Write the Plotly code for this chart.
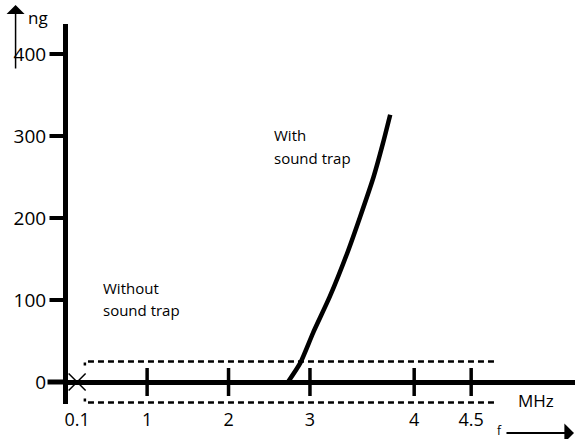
import numpy as np
import plotly.graph_objects as go

# Residual sound-carrier level (ng) with the sound trap fitted, versus frequency (MHz)
freq_mhz = [2.73, 2.88, 3.03, 3.19, 3.36, 3.48, 3.61, 3.70, 3.77]
level_ng = [0, 23, 60, 104, 158, 201, 250, 291, 326]

# Axis ticks
x_tick_mhz = [0.1, 1, 2, 3, 4, 4.5]
x_tick_text = ["0.1", "1", "2", "3", "4", "4.5"]
y_tick_vals = [0, 100, 200, 300, 400]

# Tolerance band reached without the sound trap (±ng)
band_level = 25
band_start_mhz = 0.2
band_end_mhz = 4.7

# The frequency axis of this diagram is not uniform: above 3 MHz it is stretched.
SCALE_MHZ = [0.0, 0.1, 1.0, 2.0, 3.0, 4.0, 4.5]
SCALE_POS = [0.0, 0.14, 1.0, 2.0, 3.0, 4.28, 4.98]


def fscale(f):
    f = np.asarray(f, dtype=float)
    pos = np.interp(f, SCALE_MHZ, SCALE_POS)
    slope = (SCALE_POS[-1] - SCALE_POS[-2]) / (SCALE_MHZ[-1] - SCALE_MHZ[-2])
    return np.where(f > SCALE_MHZ[-1], SCALE_POS[-1] + (f - SCALE_MHZ[-1]) * slope, pos)


FONT = "Open Sans"
INK = "black"
ZERO_PAPER_Y = 0.0579            # paper height of the 0 ng line
Y_TICK_SPAN = (-0.0365, -0.0089)  # paper x extent of the level-axis tick dashes

fig = go.Figure()

# Dashed tolerance band (upper and lower edge, with small corner hooks)
bx = fscale([band_end_mhz, band_start_mhz, band_start_mhz])
for sgn in (1, -1):
    fig.add_trace(go.Scatter(
        x=bx, y=[sgn * band_level, sgn * band_level, sgn * (band_level - 5)],
        mode="lines", line=dict(color=INK, width=2.5, dash="6px,4px"),
        hoverinfo="skip", showlegend=False))

# Curve with sound trap
fig.add_trace(go.Scatter(
    x=fscale(freq_mhz), y=level_ng, mode="lines",
    line=dict(color=INK, width=4.5, shape="spline", smoothing=0.6),
    hoverinfo="skip", showlegend=False))

# Tick marks crossing the frequency axis
fig.add_trace(go.Scatter(
    x=fscale(x_tick_mhz[1:]), y=[0] * (len(x_tick_mhz) - 1), mode="markers",
    marker=dict(symbol="line-ns", size=20, line=dict(color=INK, width=3.5)),
    hoverinfo="skip", showlegend=False, cliponaxis=False))
fig.add_trace(go.Scatter(
    x=fscale(x_tick_mhz[:1]), y=[0], mode="markers",
    marker=dict(symbol="x-thin", size=17, line=dict(color=INK, width=1.5)),
    hoverinfo="skip", showlegend=False, cliponaxis=False))

# Tick dashes on the level axis
for yv in y_tick_vals:
    fig.add_shape(type="line", xref="paper", yref="y",
                  x0=Y_TICK_SPAN[0], x1=Y_TICK_SPAN[1], y0=yv, y1=yv,
                  line=dict(color=INK, width=4))

# Frequency axis continues a little to the left of the level axis
fig.add_shape(type="line", xref="paper", yref="paper",
              x0=-0.0404, x1=0.0, y0=ZERO_PAPER_Y, y1=ZERO_PAPER_Y,
              line=dict(color=INK, width=5))

# Curve labels
labels = [
    (0.43, [114.5, 87.5], ["Without", "sound trap"]),
    (2.53, [301, 273], ["With", "sound trap"]),
]
for xpos, ys, lines in labels:
    for yv, txt in zip(ys, lines):
        fig.add_annotation(x=xpos, y=yv, xref="x", yref="y", text=txt,
                           showarrow=False, xanchor="left", yanchor="middle",
                           font=dict(family=FONT, size=15, color=INK))

# Unit labels and axis arrows
fig.add_annotation(x=0.923, y=0.008, xref="paper", yref="paper", text="MHz",
                   showarrow=False, xanchor="center", yanchor="middle",
                   font=dict(family=FONT, size=17, color=INK))
fig.add_annotation(x=0.8505, y=-0.071, xref="paper", yref="paper", text="f",
                   showarrow=False, xanchor="center", yanchor="middle",
                   font=dict(family=FONT, size=12, color=INK))
fig.add_annotation(x=0.998, y=-0.0763, xref="paper", yref="paper", text="",
                   showarrow=True, ax=-69, ay=0, arrowhead=1, arrowsize=1.6,
                   arrowwidth=2, arrowcolor=INK)
fig.add_annotation(x=-0.1034, y=1.05, xref="paper", yref="paper", text="",
                   showarrow=True, ax=0, ay=65, arrowhead=1, arrowsize=2,
                   arrowwidth=1.5, arrowcolor=INK)
fig.add_annotation(x=-0.0601, y=1.018, xref="paper", yref="paper", text="ng",
                   showarrow=False, xanchor="center", yanchor="middle",
                   font=dict(family=FONT, size=17, color=INK))

fig.update_layout(
    width=575, height=439,
    margin=dict(l=67.5, r=0, t=24, b=35),
    paper_bgcolor="white", plot_bgcolor="white",
    font=dict(family=FONT, color=INK),
    hovermode=False,
    xaxis=dict(
        range=[0.0282, 6.2552], showline=False,
        tickvals=fscale(x_tick_mhz), ticktext=x_tick_text, ticks="",
        ticklabelstandoff=3,
        tickfont=dict(family=FONT, size=18, color=INK),
        showgrid=False, zeroline=False, fixedrange=True),
    yaxis=dict(
        range=[-26.83, 436.59],
        showline=True, linewidth=5, linecolor=INK,
        zeroline=True, zerolinewidth=5, zerolinecolor=INK,
        tickvals=y_tick_vals, ticks="", ticklabelstandoff=13,
        tickfont=dict(family=FONT, size=19, color=INK),
        showgrid=False, fixedrange=True),
)

fig.write_html("out.html", config={"displayModeBar": False})
